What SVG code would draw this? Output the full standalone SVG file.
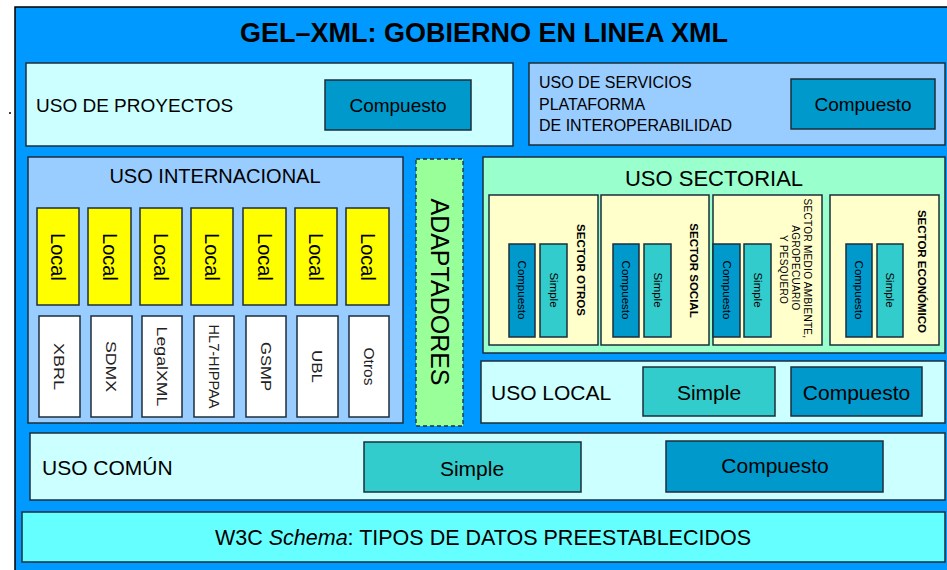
<svg xmlns="http://www.w3.org/2000/svg" width="947" height="570" viewBox="0 0 947 570">
<style>
text{font-family:"Liberation Sans",Arial,sans-serif;fill:#000}
.b{stroke:#1c2e3a;stroke-width:1.5}
.cyan{fill:#CCFFFF}
.lblue{fill:#99CCFF}
.comp{fill:#0099CC}
.simp{fill:#33CCCC}
.yel{fill:#FFFF00}
.wht{fill:#FFFFFF}
.sec{fill:#FFFFCC}
.c{text-anchor:middle}
.v{text-anchor:middle;dominant-baseline:central}
.wl{font-size:15px;fill:#222}
.sl{font-size:11.5px;font-weight:bold}
.il{font-size:11.5px}
</style>
<rect x="9" y="112" width="2" height="2" fill="#444"/>
<g id="outer">
<rect x="15" y="7" width="940" height="570" fill="#0099FF" stroke="#000" stroke-width="1.5"/>
<text x="484" y="42" class="c" font-size="27" font-weight="bold">GEL–XML: GOBIERNO EN LINEA XML</text>
</g>
<g id="uso-proyectos">
<rect x="26" y="63" width="487" height="83" class="b cyan"/>
<text x="36" y="112" font-size="19">USO DE PROYECTOS</text>
<rect x="325" y="80" width="146" height="50" class="b comp"/>
<text x="398" y="112" class="c" font-size="19">Compuesto</text>
</g>
<g id="uso-servicios">
<rect x="529" y="63" width="416" height="82" class="b lblue"/>
<text x="539" y="88" font-size="16" fill="#222">USO DE SERVICIOS</text>
<text x="539" y="110" font-size="16" fill="#222">PLATAFORMA</text>
<text x="539" y="131" font-size="16" fill="#222">DE INTEROPERABILIDAD</text>
<rect x="791" y="79" width="144" height="50" class="b comp"/>
<text x="863" y="111" class="c" font-size="19">Compuesto</text>
</g>
<g id="uso-internacional">
<rect x="28" y="157" width="375" height="266" class="b lblue"/>
<text x="215" y="183" class="c" font-size="20">USO INTERNACIONAL</text>
</g>
<g id="local-1"><rect x="37" y="208" width="42" height="97" class="b yel"/><text transform="translate(58,257) rotate(90)" class="v" font-size="20">Local</text></g>
<g id="local-2"><rect x="88" y="208" width="43" height="97" class="b yel"/><text transform="translate(109.5,257) rotate(90)" class="v" font-size="20">Local</text></g>
<g id="local-3"><rect x="140" y="208" width="42" height="97" class="b yel"/><text transform="translate(161,257) rotate(90)" class="v" font-size="20">Local</text></g>
<g id="local-4"><rect x="191" y="208" width="42" height="97" class="b yel"/><text transform="translate(212,257) rotate(90)" class="v" font-size="20">Local</text></g>
<g id="local-5"><rect x="243" y="208" width="43" height="97" class="b yel"/><text transform="translate(264.5,257) rotate(90)" class="v" font-size="20">Local</text></g>
<g id="local-6"><rect x="295" y="208" width="42" height="97" class="b yel"/><text transform="translate(316,257) rotate(90)" class="v" font-size="20">Local</text></g>
<g id="local-7"><rect x="346" y="208" width="43" height="97" class="b yel"/><text transform="translate(367.5,257) rotate(90)" class="v" font-size="20">Local</text></g>
<g id="std-xbrl"><rect x="39" y="316" width="41" height="101" class="b wht"/><text transform="translate(59.5,366.5) rotate(90)" class="v wl" textLength="47" lengthAdjust="spacingAndGlyphs">XBRL</text></g>
<g id="std-sdmx"><rect x="91" y="316" width="41" height="101" class="b wht"/><text transform="translate(111.5,366.5) rotate(90)" class="v wl" textLength="51" lengthAdjust="spacingAndGlyphs">SDMX</text></g>
<g id="std-legalxml"><rect x="142" y="316" width="40" height="101" class="b wht"/><text transform="translate(162,366.5) rotate(90)" class="v wl" textLength="80" lengthAdjust="spacingAndGlyphs">LegalXML</text></g>
<g id="std-hl7"><rect x="194" y="316" width="40" height="101" class="b wht"/><text transform="translate(214,366.5) rotate(90)" class="v wl" textLength="84" lengthAdjust="spacingAndGlyphs">HL7-HIPPAA</text></g>
<g id="std-gsmp"><rect x="246" y="316" width="40" height="101" class="b wht"/><text transform="translate(266,366.5) rotate(90)" class="v wl" textLength="49" lengthAdjust="spacingAndGlyphs">GSMP</text></g>
<g id="std-ubl"><rect x="297" y="316" width="41" height="101" class="b wht"/><text transform="translate(317.5,366.5) rotate(90)" class="v wl" textLength="33" lengthAdjust="spacingAndGlyphs">UBL</text></g>
<g id="std-otros"><rect x="349" y="316" width="40" height="101" class="b wht"/><text transform="translate(369,366.5) rotate(90)" class="v wl" textLength="38" lengthAdjust="spacingAndGlyphs">Otros</text></g>
<g id="adaptadores">
<rect x="416" y="159" width="47" height="267" fill="#99FF99" stroke="#1c2e3a" stroke-width="1.3" stroke-dasharray="4,3"/>
<text transform="translate(440,292) rotate(90)" class="v" font-size="25">ADAPTADORES</text>
</g>
<g id="uso-sectorial">
<rect x="483" y="157" width="462" height="196" class="b" fill="#99FFCC"/>
<text x="714" y="186" class="c" font-size="22">USO SECTORIAL</text>
</g>
<g id="sector-otros">
<rect x="489" y="195" width="109" height="150" class="b sec"/>
<rect x="509" y="244" width="26" height="93" class="b comp"/><text transform="translate(522,290) rotate(90)" class="v il">Compuesto</text>
<rect x="540" y="244" width="27" height="93" class="b simp"/><text transform="translate(553.5,290) rotate(90)" class="v il">Simple</text>
<text transform="translate(581,270) rotate(90)" class="v sl">SECTOR OTROS</text>
</g>
<g id="sector-social">
<rect x="601" y="195" width="108" height="150" class="b sec"/>
<rect x="613" y="244" width="26" height="93" class="b comp"/><text transform="translate(626,290) rotate(90)" class="v il">Compuesto</text>
<rect x="644" y="244" width="27" height="93" class="b simp"/><text transform="translate(657.5,290) rotate(90)" class="v il">Simple</text>
<text transform="translate(693.5,270.5) rotate(90)" class="v sl">SECTOR SOCIAL</text>
</g>
<g id="sector-medio-ambiente">
<rect x="713" y="195" width="109" height="150" class="b sec"/>
<rect x="713" y="244" width="27" height="93" class="b comp"/><text transform="translate(726.5,290) rotate(90)" class="v il">Compuesto</text>
<rect x="744" y="244" width="27" height="93" class="b simp"/><text transform="translate(757.5,290) rotate(90)" class="v il">Simple</text>
<text transform="translate(807,268.5) rotate(90)" class="v" font-size="10" letter-spacing="0.3">SECTOR MEDIO AMBIENTE,</text>
<text transform="translate(795.5,268) rotate(90)" class="v" font-size="10" letter-spacing="0.3">AGROPECUARIO</text>
<text transform="translate(783.5,269.5) rotate(90)" class="v" font-size="10" letter-spacing="0.3">Y PESQUERO</text>
</g>
<g id="sector-economico">
<rect x="830" y="195" width="109" height="150" class="b sec"/>
<rect x="846" y="244" width="26" height="93" class="b comp"/><text transform="translate(859,290) rotate(90)" class="v il">Compuesto</text>
<rect x="877" y="244" width="26" height="93" class="b simp"/><text transform="translate(890,290) rotate(90)" class="v il">Simple</text>
<text transform="translate(922,271.5) rotate(90)" class="v sl">SECTOR ECONÓMICO</text>
</g>
<g id="uso-local">
<rect x="481" y="361" width="464" height="62" class="b cyan"/>
<text x="491" y="400" font-size="21">USO LOCAL</text>
<rect x="643" y="367" width="132" height="49" class="b simp"/>
<text x="709" y="400" class="c" font-size="21">Simple</text>
<rect x="791" y="367" width="131" height="49" class="b comp"/>
<text x="856.5" y="400" class="c" font-size="21">Compuesto</text>
</g>
<g id="uso-comun">
<rect x="30" y="433" width="915" height="67" class="b cyan"/>
<text x="42" y="475" font-size="21">USO COMÚN</text>
<rect x="364" y="442" width="217" height="50" class="b simp"/>
<text x="472" y="476" class="c" font-size="21">Simple</text>
<rect x="666" y="441" width="217" height="51" class="b comp"/>
<text x="775" y="473" class="c" font-size="21">Compuesto</text>
</g>
<g id="w3c-schema">
<rect x="22" y="512" width="923" height="50" class="b" fill="#66FFFF"/>
<text x="483" y="545" class="c" font-size="21.5">W3C <tspan font-style="italic">Schema</tspan>: TIPOS DE DATOS PREESTABLECIDOS</text>
</g>
<g id="connectors"></g>
</svg>
